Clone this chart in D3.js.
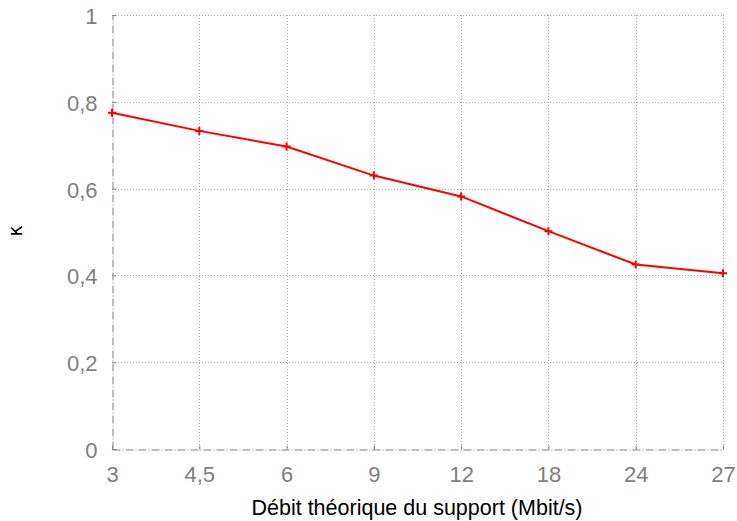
<!DOCTYPE html>
<html><head><meta charset="utf-8">
<script src="https://cdn.jsdelivr.net/npm/d3@7"></script>
<style>body{margin:0;background:#fff}svg{display:block}</style>
</head><body>
<svg id="c" width="737" height="521"></svg>
<script>
const categories = ["3","4,5","6","9","12","18","24","27"];
const kappa = [0.775, 0.733, 0.697, 0.630, 0.582, 0.502, 0.425, 0.405];
const yTicks = [0, 0.2, 0.4, 0.6, 0.8, 1];
const xTitle = "Débit théorique du support (Mbit/s)";
const yTitle = "κ";

const svg = d3.select("#c");
const L = 112, R = 723, T = 15, B = 449;
const x = d3.scalePoint().domain(categories).range([L, R]);
const y = d3.scaleLinear().domain([0, 1]).range([B, T]);
const fmt = v => String(v).replace(".", ",");
const grey = "#7f7f7f";
const FF = "Liberation Sans, Arial, Helvetica, sans-serif";

// grid
const g = svg.append("g");
g.selectAll("line.v").data(categories.slice(1)).join("line")
  .attr("x1", d => Math.round(x(d)) + 0.5).attr("x2", d => Math.round(x(d)) + 0.5)
  .attr("y1", T).attr("y2", B)
  .attr("stroke", "#a8a8a8").attr("stroke-width", 1).attr("stroke-dasharray", "1,2");
g.selectAll("line.h").data(yTicks.slice(1)).join("line")
  .attr("x1", L).attr("x2", R)
  .attr("y1", d => Math.round(y(d)) + 0.5).attr("y2", d => Math.round(y(d)) + 0.5)
  .attr("stroke", "#a8a8a8").attr("stroke-width", 1).attr("stroke-dasharray", "1,2");

// axes (dash-dot)
const axY = d3.axisLeft(y).tickValues(yTicks).tickFormat(fmt).tickSize(0).tickPadding(15);
const axX = d3.axisBottom(x).tickSize(0).tickPadding(0);
const gy = svg.append("g").attr("transform", `translate(${L + 0.5},0)`).call(axY);
const gx = svg.append("g").attr("transform", `translate(0,${B + 0.5})`).call(axX);
[gy, gx].forEach(a => {
  a.select(".domain").attr("stroke", "#808080").attr("stroke-dasharray", "8,2,1,2");
  a.selectAll("text").attr("fill", grey).attr("font-family", FF).attr("font-size", 22);
});
gy.selectAll("text").attr("dy", null).attr("y", 8.5);
gx.selectAll("text").attr("dy", null).attr("y", 32);
// small tick marks
gy.selectAll(".tick").append("line").attr("x1", 0).attr("x2", 4).attr("stroke", "#808080");
gx.selectAll(".tick").append("line").attr("y1", 0).attr("y2", -4).attr("stroke", "#808080");

// line
const line = d3.line().x((d, i) => x(categories[i])).y(d => y(d));
svg.append("path").datum(kappa).attr("d", line)
  .attr("fill", "none").attr("stroke", "#ff0000").attr("stroke-width", 2);
const s = 4;
svg.append("g").selectAll("path").data(kappa).join("path")
  .attr("d", (d, i) => {
    const cx = x(categories[i]), cy = y(d);
    return `M${cx - s},${cy}H${cx + s}M${cx},${cy - s}V${cy + s}`;
  })
  .attr("stroke", "#ff0000").attr("stroke-width", 2);

// titles
svg.append("text").attr("x", 417).attr("y", 515).attr("text-anchor", "middle")
  .attr("font-family", FF).attr("font-size", 21.5).attr("fill", "#000")
  .text(xTitle);
svg.append("text").attr("transform", "translate(22,231) rotate(-90)").attr("text-anchor", "middle")
  .attr("font-family", "DejaVu Sans, sans-serif").attr("font-size", 19).attr("fill", "#000")
  .text(yTitle);
</script>
</body></html>
